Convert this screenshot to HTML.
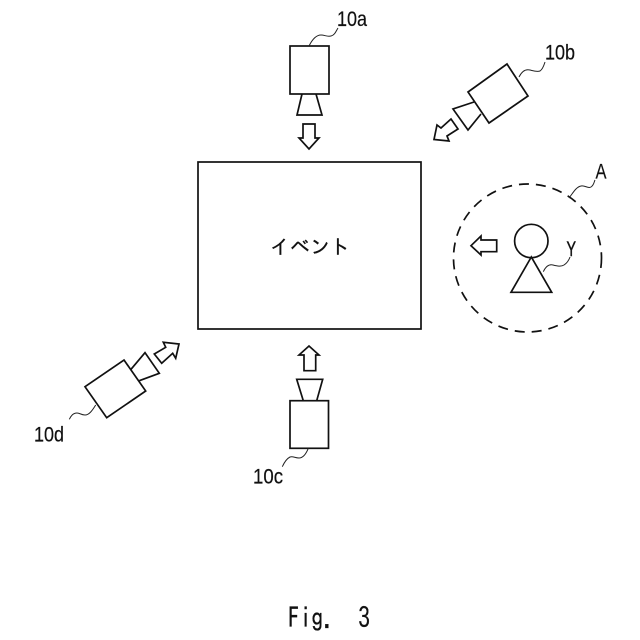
<!DOCTYPE html>
<html>
<head>
<meta charset="utf-8">
<style>
html,body{margin:0;padding:0;background:#fff;width:640px;height:640px;overflow:hidden}
svg{display:block}
.s{fill:none;stroke:#111;stroke-width:1.7;stroke-linejoin:miter}
.l{fill:none;stroke:#222;stroke-width:1}
text{font-family:"IPAGothic","Liberation Sans","Noto Sans CJK JP",sans-serif;fill:#111;white-space:pre}
text.n{font-family:"Liberation Sans","IPAGothic",sans-serif;font-size:21px;stroke:#111;stroke-width:0.2}
</style>
</head>
<body>
<svg width="640" height="640" viewBox="0 0 640 640" xmlns="http://www.w3.org/2000/svg">
<rect class="s" x="198" y="162" width="223" height="167"/>
<text x="270" y="254" font-size="20" stroke="#111" stroke-width="0.25">イベント</text>

<!-- 10a -->
<rect class="s" x="290" y="46" width="39" height="48"/>
<path class="s" d="M302 94L297 115H322L316 94"/>
<path class="s" d="M303 124H315V138H319L309 149L299 138H303Z"/>
<path class="l" d="M309 46C312 40 316 35 321 35C325 35 327 37 331 36C335 35 336 31 338 28"/>
<text class="n" x="337" y="26" textLength="30" lengthAdjust="spacingAndGlyphs">10a</text>

<!-- 10b -->
<path class="s" d="M507 64L528 96L489 123L468 92Z"/>
<path class="s" d="M474 102L453 109L468 130L481 114"/>
<path class="s" d="M451 119L458 129L447 136L449 141L434 139.5L437 125L441 128Z"/>
<path class="l" d="M519 77C522 71 526 69 530 70C534 71 537 72 540 71C543 69 544 65 545 62"/>
<text class="n" x="545" y="59.5" textLength="30" lengthAdjust="spacingAndGlyphs">10b</text>

<!-- A circle -->
<circle cx="527.5" cy="258" r="74" fill="none" stroke="#111" stroke-width="1.7" stroke-dasharray="10 7"/>
<path class="l" d="M569 198C573 193 576 187 581 186C585 185 588 189 591 187C594 185 594 182 595 180"/>
<text class="n" x="595.5" y="178.5" textLength="11" lengthAdjust="spacingAndGlyphs">A</text>

<!-- person -->
<circle class="s" cx="531.3" cy="241" r="16.7"/>
<path class="s" d="M531.3 257L511 292.3H551.7Z"/>
<path class="s" d="M471 245.7L481 236V240H496.7V251.7H481V255Z"/>
<path class="l" d="M543.3 271.7C546 266 549 264 553 265C557 266 561 267 564 265C567 263 569 260 570 257"/>
<text class="n" x="566.5" y="256" textLength="9.5" lengthAdjust="spacingAndGlyphs" style="stroke-width:0.5">Y</text>

<!-- 10c -->
<rect class="s" x="290" y="400.7" width="38.5" height="47.6"/>
<path class="s" d="M303.3 400.7L296.7 379.3H322.7L316.7 400.7"/>
<path class="s" d="M304 370.7V355H299L309 346L319 355H315.7V370.7Z"/>
<path class="l" d="M308.3 448.3C306 454 303 458 299 458C295 458 293 456 290 457C286 459 284 463 282.3 466.7"/>
<text class="n" x="253" y="483.5" textLength="30" lengthAdjust="spacingAndGlyphs">10c</text>

<!-- 10d -->
<path class="s" d="M124 360L145.7 391L106.7 417.7L85 386.7Z"/>
<path class="s" d="M131 369.3L145 352.7L159.3 373.3L139.3 380.7"/>
<path class="s" d="M154.3 354L165.7 347.3L163.3 342.3L179 344L175.7 358.3L172.7 353.3L161.7 363.3Z"/>
<path class="l" d="M95.7 405C92 411 89 415 85 415C81 415 80 413 77 413C73 413 71 416 69.3 419.3"/>
<text class="n" x="34" y="441.5" textLength="30" lengthAdjust="spacingAndGlyphs">10d</text>

<text x="288" y="628" font-size="28" textLength="82" lengthAdjust="spacingAndGlyphs" stroke="#111" stroke-width="0.3">Fig.  3</text>
</svg>
</body>
</html>
